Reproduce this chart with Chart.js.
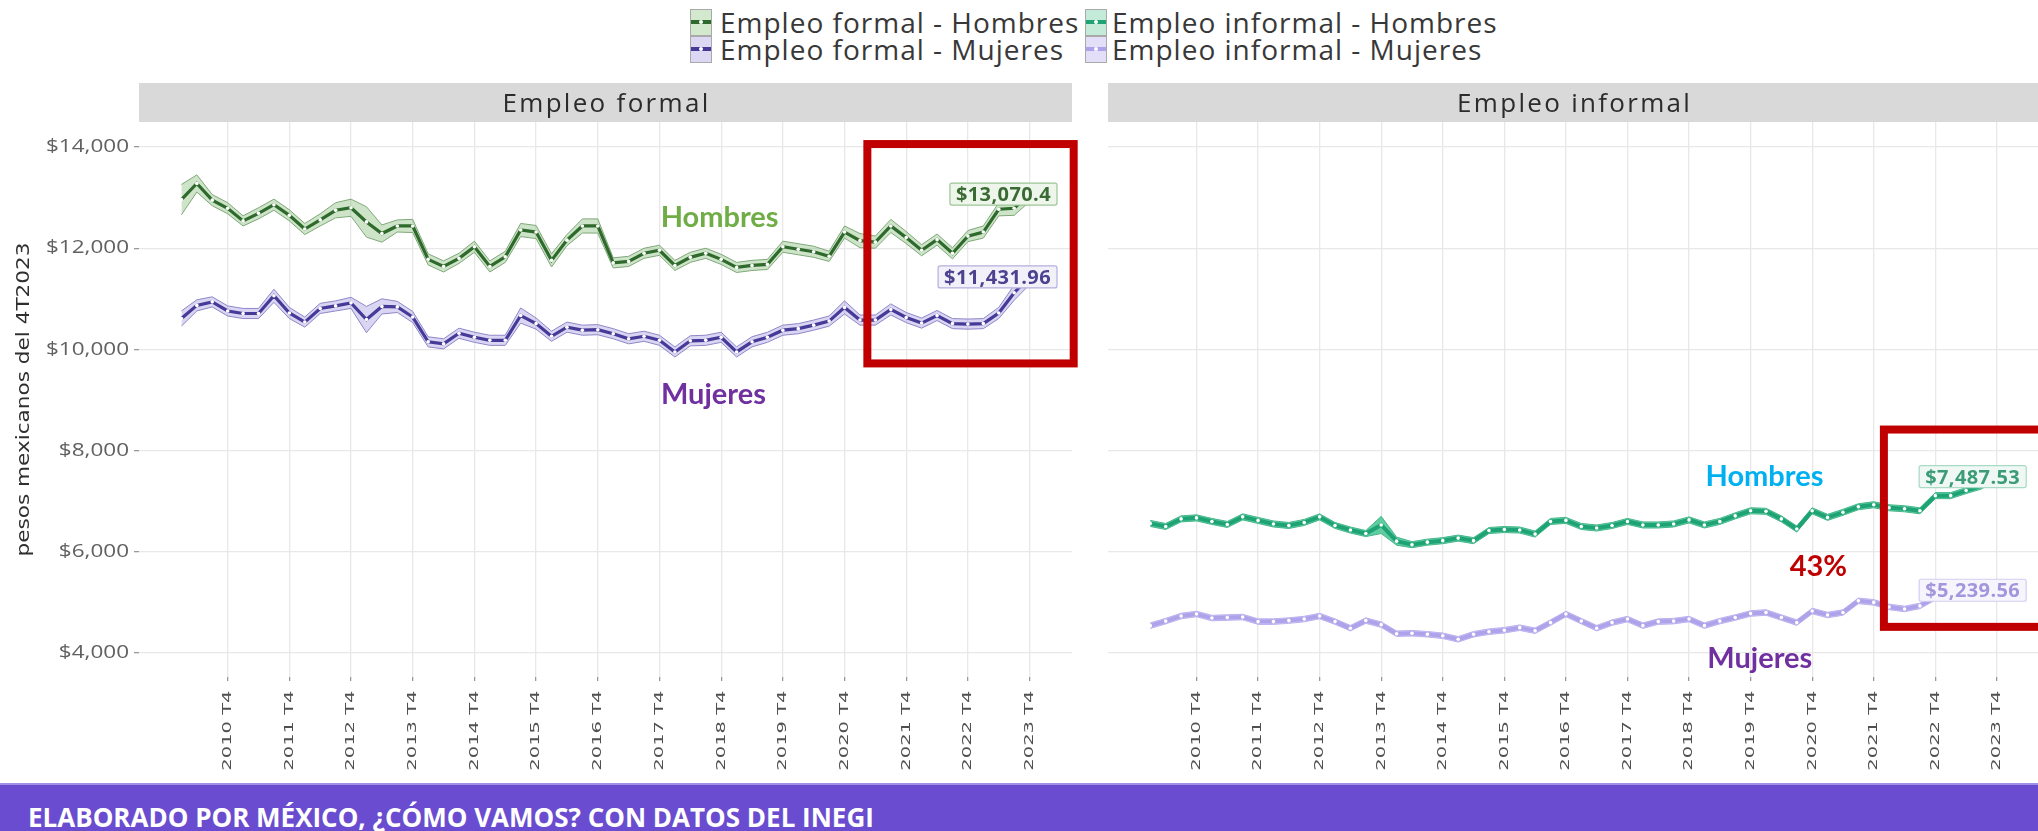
<!DOCTYPE html>
<html>
<head>
<meta charset="utf-8">
<script src="https://cdn.jsdelivr.net/npm/chart.js@4.4.1/dist/chart.umd.min.js"></script>
<style>
html,body{margin:0;padding:0;background:#fff;width:2038px;height:831px;overflow:hidden;position:relative;font-family:'Open Sans',sans-serif;}
#cLeft{position:absolute;left:0;top:0;}
#cRight{position:absolute;left:1090px;top:0;}
.lkey{position:absolute;width:20px;height:25px;border:1px solid #a9a9a9;}
.lkey .ln{position:absolute;left:0;right:0;top:10px;height:4px;}
.lkey .dt{position:absolute;left:8px;top:10px;width:4px;height:4px;border-radius:2px;background:#fff;}
.ltxt{position:absolute;font-size:28px;color:#383838;line-height:27px;letter-spacing:1px;white-space:nowrap;}
#banner{position:absolute;left:0;top:783px;width:2038px;height:48px;background:#6A4CD0;border-top:2px solid #a08fe6;box-sizing:border-box;}
#banner span{position:absolute;left:28px;top:17px;line-height:30px;color:#fff;font-weight:700;font-size:26px;white-space:nowrap;}
</style>
</head>
<body>
<div id="legend"></div>
<canvas id="cLeft" width="1090" height="783"></canvas>
<canvas id="cRight" width="951" height="783"></canvas>
<div id="banner"><span>ELABORADO POR MÉXICO, ¿CÓMO VAMOS? CON DATOS DEL INEGI</span></div>
<script>
// ---------------- DATA ----------------
const years = [2010,2011,2012,2013,2014,2015,2016,2017,2018,2019,2020,2021,2022,2023];
const quarterNames = ['T1','T2','T3','T4'];
const quarters = [];
years.forEach(y => quarterNames.forEach(q => quarters.push(y + ' ' + q)));

const yTicks = [4000, 6000, 8000, 10000, 12000, 14000];

const panelTitles = ['Empleo formal', 'Empleo informal'];
const seriesNames = {
  formalH: 'Empleo formal - Hombres',
  formalM: 'Empleo formal - Mujeres',
  informalH: 'Empleo informal - Hombres',
  informalM: 'Empleo informal - Mujeres'
};

const formalH = [12960,13280,12950,12790,12540,12690,12860,12650,12380,12560,
                 12750,12800,12520,12290,12440,12440,11780,11640,11800,12030,
                 11640,11830,12360,12320,11760,12160,12440,12440,11710,11740,
                 11900,11960,11660,11820,11900,11780,11620,11660,11680,12030,
                 11980,11930,11840,12320,12150,12120,12440,12210,11960,12170,
                 11900,12240,12320,12770,12790,13070.4];
const formalM = [10610,10870,10940,10760,10710,10710,11060,10720,10540,10810,
                 10860,10920,10590,10850,10840,10640,10150,10110,10320,10240,
                 10180,10180,10670,10510,10260,10440,10380,10390,10310,10210,
                 10260,10180,9950,10170,10180,10240,9950,10150,10240,10380,
                 10410,10480,10560,10830,10580,10580,10790,10630,10520,10670,
                 10510,10500,10510,10720,11120,11431.96];
const informalH = [6560,6500,6650,6670,6600,6540,6690,6620,6550,6520,
                   6580,6690,6520,6430,6360,6530,6210,6140,6190,6220,
                   6270,6220,6420,6440,6430,6350,6600,6620,6500,6470,
                   6520,6600,6530,6530,6550,6630,6530,6600,6710,6810,
                   6800,6650,6450,6810,6680,6780,6890,6930,6870,6850,
                   6810,7110,7110,7210,7300,7487.53];
const informalM = [4540,4630,4730,4770,4690,4700,4710,4620,4620,4640,
                   4670,4730,4620,4490,4640,4560,4380,4390,4370,4340,
                   4270,4370,4420,4450,4500,4440,4600,4770,4630,4490,
                   4600,4670,4540,4620,4630,4670,4540,4630,4700,4780,
                   4800,4700,4600,4830,4750,4800,5030,5000,4910,4870,
                   4930,5100,5100,5130,5180,5239.56];

// half-width of the confidence ribbons
const formalHMargin = [300,170,110,110,100,110,110,110,110,120,
                       150,170,300,170,120,130,110,110,100,110,
                       110,110,130,130,130,110,140,140,100,100,
                       100,100,100,100,100,100,100,100,100,110,
                       110,110,100,120,140,120,130,120,110,110,
                       110,110,120,130,140,150];
const formalMMargin = [150,110,100,100,100,100,130,110,100,100,
                       100,110,260,150,110,110,100,100,100,100,
                       100,100,150,110,100,100,100,100,100,100,
                       100,100,100,100,100,100,100,100,100,100,
                       100,100,100,130,100,100,110,100,100,100,
                       100,100,100,110,150,150];
const informalHMargin = [60,60,60,60,60,60,60,60,60,60,
                         60,60,60,60,60,170,80,60,60,60,
                         60,60,60,60,60,60,60,60,60,60,
                         60,60,60,60,60,60,60,60,60,60,
                         60,60,60,60,60,60,60,60,60,60,
                         60,60,60,60,60,60];
const informalMMargin = [55,55,55,55,55,55,55,55,55,55,
                         55,55,55,55,55,55,55,55,55,55,
                         55,55,55,55,55,55,55,55,55,55,
                         55,55,55,55,55,55,55,55,55,55,
                         55,55,55,55,55,55,55,55,55,55,
                         55,55,55,55,55,55];

// ---------------- STYLES ----------------
const ST = {
  formalH:   {line:'#2E6A2B', fill:'rgba(125,185,112,0.38)', key:'#D3E8CD', border:'#7FA879', lw:3.2,
              lab:{text:'#3B6B35', bg:'#EEF6EB', border:'#9DC596'}},
  formalM:   {line:'#463A98', fill:'rgba(140,126,218,0.33)', key:'#DCD8F3', border:'#8E87C7', lw:3.2,
              lab:{text:'#4C4290', bg:'#F2F1FA', border:'#B5AFDC'}},
  informalH: {line:'#1EA474', fill:'#62CCA1', key:'#C4EBDA', border:'#45B78A', lw:4,
              lab:{text:'#3C9C78', bg:'#EFF8F4', border:'#A8DAC4'}},
  informalM: {line:'#AEA2EA', fill:'#CEC6F4', key:'#E4DFF8', border:'#BCB1EE', lw:4,
              lab:{text:'#A396DC', bg:'#F6F4FC', border:'#D5CEF1'}}
};

// ---------------- LEGEND (HTML) ----------------
(function(){
  const lg = document.getElementById('legend');
  const items = [
    ['formalH', 690, 720, 9], ['formalM', 690, 720, 36],
    ['informalH', 1085, 1112, 9], ['informalM', 1085, 1112, 36]
  ];
  items.forEach(([k, kx, tx, ty]) => {
    const key = document.createElement('div');
    key.className = 'lkey';
    key.style.left = kx + 'px'; key.style.top = ty + 'px';
    key.style.background = ST[k].key;
    key.innerHTML = '<div class="ln" style="background:' + ST[k].line + '"></div><div class="dt"></div>';
    lg.appendChild(key);
    const t = document.createElement('div');
    t.className = 'ltxt';
    t.style.left = tx + 'px'; t.style.top = ty + 'px';
    t.textContent = seriesNames[k];
    lg.appendChild(t);
  });
})();

// ---------------- HELPERS ----------------
const pts = arr => arr.map((v, i) => ({x: i, y: v}));
const shifted = (arr, m, sign) => arr.map((v, i) => ({x: i, y: v + sign * m[i]}));
const fmtMoney = v => '$' + v.toLocaleString('en-US', {maximumFractionDigits: 2});

function seriesSets(key, vals, margins) {
  const s = ST[key];
  return [
    {label: seriesNames[key] + ' inf', data: shifted(vals, margins, -1), borderColor: s.border, borderWidth: 1,
     pointRadius: 0, fill: false, order: 2},
    {label: seriesNames[key] + ' sup', data: shifted(vals, margins, 1), borderColor: s.border, borderWidth: 1,
     pointRadius: 0, fill: '-1', backgroundColor: s.fill, order: 2},
    {label: seriesNames[key], data: pts(vals), borderColor: s.line, borderWidth: s.lw,
     pointRadius: 1.8, pointBackgroundColor: '#ffffff', pointBorderWidth: 0, pointHoverRadius: 0,
     fill: false, order: 0, valueLabel: s.lab}
  ];
}

// stretch text drawn by a scale method about an origin (the reference picture is non-uniformly scaled)
function stretch(scale, fn, kx, ky, originFn) {
  if (!scale || scale['_t_' + fn]) return;
  const orig = scale[fn].bind(scale);
  scale[fn] = function(...a) {
    const c = this.ctx;
    const [ox, oy] = originFn(this);
    c.save();
    c.translate(ox, oy); c.scale(kx, ky); c.translate(-ox, -oy);
    orig(...a);
    c.restore();
  };
  scale['_t_' + fn] = true;
}

const stretchPlugin = {
  id: 'stretchText',
  beforeDraw(chart) {
    stretch(chart.scales.x, 'drawLabels', 1, 1.5, s => [0, s.top]);
    stretch(chart.scales.y, 'drawLabels', 1.25, 1, s => [s.right, 0]);
    stretch(chart.scales.y, 'drawTitle', 1, 1.27, s => [0, (s.top + s.bottom) / 2]);
  }
};

const stripPlugin = {
  id: 'strip',
  beforeDraw(chart, args, opts) {
    const {ctx, chartArea: a} = chart;
    ctx.save();
    ctx.fillStyle = '#D9D9D9';
    ctx.fillRect(a.left, 83, a.right - a.left, 39);
    ctx.fillStyle = '#2b2b2b';
    ctx.font = '26px "Open Sans"';
    ctx.letterSpacing = '2.3px';
    ctx.textAlign = 'center';
    ctx.textBaseline = 'alphabetic';
    ctx.fillText(opts.text, (a.left + a.right) / 2 + 1, 112);
    ctx.restore();
  }
};

const valueLabelPlugin = {
  id: 'valueLabel',
  afterDatasetsDraw(chart, args, opts) {
    const {ctx, chartArea: a} = chart;
    const ys = chart.scales.y;
    chart.data.datasets.forEach(ds => {
      if (!ds.valueLabel) return;
      const last = ds.data[ds.data.length - 1];
      const cy = ys.getPixelForValue(last.y);
      const txt = fmtMoney(last.y);
      ctx.save();
      ctx.font = 'bold 20px "Open Sans"';
      ctx.letterSpacing = '0.4px';
      const w = ctx.measureText(txt).width + 12;
      const h = 22;
      const right = a.right - opts.inset;
      const x0 = right - w, y0 = cy - h / 2;
      ctx.fillStyle = ds.valueLabel.bg;
      ctx.strokeStyle = ds.valueLabel.border;
      ctx.lineWidth = 1.2;
      ctx.beginPath();
      ctx.roundRect(x0, y0, w, h, 2);
      ctx.fill(); ctx.stroke();
      ctx.fillStyle = ds.valueLabel.text;
      ctx.textAlign = 'left';
      ctx.textBaseline = 'alphabetic';
      ctx.fillText(txt, x0 + 6, cy + 7.2);
      ctx.restore();
    });
  }
};

const notesPlugin = {
  id: 'notes',
  afterDraw(chart, args, opts) {
    const {ctx} = chart;
    const xs = chart.scales.x, ys = chart.scales.y;
    ctx.save();
    ctx.font = 'bold 29px Lato';
    ctx.textAlign = 'center';
    ctx.textBaseline = 'alphabetic';
    opts.texts.forEach(t => {
      ctx.fillStyle = t.color;
      ctx.fillText(t.text, xs.getPixelForValue(t.x), ys.getPixelForValue(t.y) + 10.5);
    });
    const b = opts.box;
    const x0 = xs.getPixelForValue(b.x0), x1 = xs.getPixelForValue(b.x1);
    const y0 = ys.getPixelForValue(b.y0), y1 = ys.getPixelForValue(b.y1);
    ctx.strokeStyle = '#C00000';
    ctx.lineWidth = 8;
    ctx.lineJoin = 'miter';
    ctx.strokeRect(x0, y0, x1 - x0, y1 - y0);
    ctx.restore();
  }
};

function xScaleCfg() {
  return {
    type: 'linear', min: -2.75, max: 57.75,
    afterBuildTicks: s => {
      s.ticks = quarters.map((q, i) => ({value: i, label: q})).filter(t => t.label.endsWith('T4'));
    },
    ticks: {autoSkip: false, minRotation: 90, maxRotation: 90, padding: 5, color: '#505050',
            font: {family: 'DejaVu Sans', size: 13}, callback: v => quarters[v]},
    grid: {color: '#E8E8E8', lineWidth: 1.3, drawTicks: true, tickLength: 4, tickColor: '#999999'},
    border: {display: false},
    afterFit: s => { s.height = 106; }
  };
}

function yScaleCfg(withLabels) {
  const cfg = {
    type: 'linear', min: 3525, max: 14495,
    afterBuildTicks: s => { s.ticks = yTicks.map(v => ({value: v})); },
    ticks: {display: withLabels, callback: v => fmtMoney(v), color: '#616161',
            font: {family: 'Open Sans', size: 18}, padding: 3},
    grid: {color: '#E8E8E8', lineWidth: 1.3, drawTicks: withLabels, tickLength: 5, tickColor: '#999999'},
    border: {display: false},
    afterFit: s => { s.width = withLabels ? 139 : 18; }
  };
  if (withLabels) {
    cfg.title = {display: true, text: 'pesos mexicanos del 4T2023', color: '#2f2f2f',
                 font: {family: 'DejaVu Sans', size: 17}, padding: {top: 14, bottom: 0}};
  }
  return cfg;
}

function makeChart(id, sets, withLabels, title, notes, padRight, inset) {
  return new Chart(document.getElementById(id), {
    type: 'line',
    data: {datasets: sets},
    options: {
      responsive: false, animation: false, devicePixelRatio: 1,
      layout: {padding: {top: 122, right: padRight, bottom: 0, left: 0}},
      elements: {line: {tension: 0}},
      scales: {x: xScaleCfg(), y: yScaleCfg(withLabels)},
      plugins: {
        legend: {display: false}, tooltip: {enabled: false},
        strip: {text: title}, notes: notes, valueLabel: {inset: inset}
      },
      events: []
    },
    plugins: [stretchPlugin, stripPlugin, valueLabelPlugin, notesPlugin]
  });
}

makeChart('cLeft',
  [...seriesSets('formalH', formalH, formalHMargin), ...seriesSets('formalM', formalM, formalMMargin)],
  true, panelTitles[0],
  {texts: [{text: 'Hombres', x: 34.9, y: 12634, color: '#70AD47'},
           {text: 'Mujeres', x: 34.5, y: 9129, color: '#7030A0'},
           {text: '14%', x: 61.0, y: 12297, color: '#C00000'}],
   box: {x0: 44.48, x1: 57.86, y0: 14059, y1: 9723}},
  18, 15);

makeChart('cRight',
  [...seriesSets('informalH', informalH, informalHMargin), ...seriesSets('informalM', informalM, informalMMargin)],
  false, panelTitles[1],
  {texts: [{text: 'Hombres', x: 39.9, y: 7506, color: '#00B0F0'},
           {text: 'Mujeres', x: 39.6, y: 3902, color: '#7030A0'},
           {text: '43%', x: 43.4, y: 5724, color: '#C00000'}],
   box: {x0: 47.66, x1: 58.6, y0: 8416, y1: 4516}},
  0, 13);
</script>
</body>
</html>
